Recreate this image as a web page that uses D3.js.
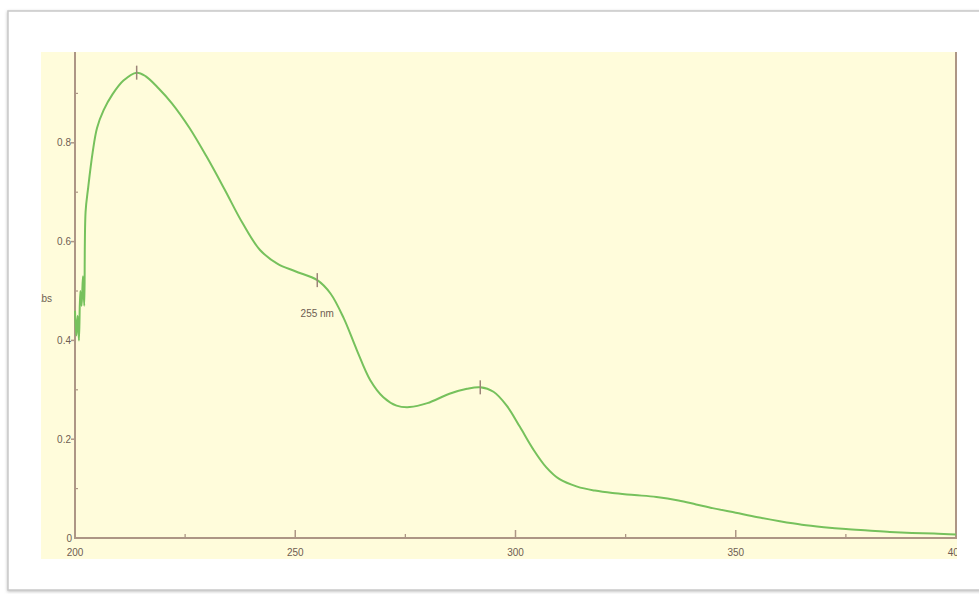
<!DOCTYPE html>
<html>
<head>
<meta charset="utf-8">
<script src="https://cdn.jsdelivr.net/npm/d3@7"></script>
<style>
  html, body { margin: 0; padding: 0; background: #ffffff; }
  svg { display: block; }
  text { font-family: "Liberation Sans", Arial, sans-serif; }
</style>
</head>
<body>
<svg id="chart" width="979" height="594"></svg>
<script>
// UV absorption spectrum: wavelength (nm) vs absorbance
const wavelengths = [200, 200.3, 200.6, 200.9, 201.2, 201.5, 201.8, 202.1, 202.4, 203, 204, 205, 206.5, 208.5, 211, 214,
  216, 219, 222, 226, 230, 234, 238, 242, 246, 250, 255, 258, 261, 264, 267, 270, 273, 276, 280, 285, 289, 292,
  295, 298, 301, 304, 307, 310, 314, 318, 322, 327, 332, 337, 341, 345, 350, 355, 360, 365, 370, 375, 380, 385,
  390, 395, 400];
const absorbance = [0.46, 0.41, 0.45, 0.40, 0.50, 0.47, 0.53, 0.47, 0.66, 0.71, 0.78, 0.83, 0.866, 0.898, 0.926, 0.942,
  0.935, 0.91, 0.88, 0.83, 0.77, 0.705, 0.638, 0.583, 0.555, 0.54, 0.522, 0.495, 0.445, 0.38, 0.32, 0.285, 0.268, 0.265, 0.273, 0.292, 0.302, 0.305,
  0.296, 0.268, 0.225, 0.18, 0.143, 0.119, 0.104, 0.096, 0.091, 0.087, 0.083, 0.076, 0.068, 0.06, 0.051, 0.042, 0.034, 0.027, 0.022, 0.018, 0.015, 0.012,
  0.01, 0.009, 0.007];

// picked peaks and the one labelled peak
const peakWavelengths = [214, 255, 292];
const labelledPeaks = [255];

const xTicksMajor = [200, 250, 300, 350, 400];
const xTicksMinor = [225, 275, 325, 375];
const yTicksMajor = [0, 0.2, 0.4, 0.6, 0.8];
const yTicksMinor = [0.1, 0.3, 0.5, 0.7, 0.9];
const yAxisTitle = "Abs";

const svg = d3.select("#chart");
const axisColor = "#ad9685";
const textColor = "#6e5c52";

const x = d3.scaleLinear().domain([200, 400]).range([75, 956]);
const y = d3.scaleLinear().domain([0, 1]).range([538, 44]);

// outer panel with soft shadow
const defs = svg.append("defs");
const f = defs.append("filter").attr("id", "shadow").attr("x", "-5%").attr("y", "-5%").attr("width", "110%").attr("height", "110%");
f.append("feDropShadow").attr("dx", 0).attr("dy", 1).attr("stdDeviation", 1.6).attr("flood-color", "#888").attr("flood-opacity", 0.55);

svg.append("rect").attr("x", 8).attr("y", 11).attr("width", 990).attr("height", 579)
  .attr("fill", "#ffffff").attr("stroke", "#c9c9c9").attr("stroke-width", 1.5)
  .attr("filter", "url(#shadow)");

// plot background
const plotLeft = 41, plotTop = 52, plotRight = 957, plotBottom = 559;
svg.append("rect").attr("x", plotLeft).attr("y", plotTop)
  .attr("width", plotRight - plotLeft).attr("height", plotBottom - plotTop)
  .attr("fill", "#fffcdb");

defs.append("clipPath").attr("id", "plotClip").append("rect")
  .attr("x", plotLeft).attr("y", plotTop).attr("width", plotRight - plotLeft).attr("height", plotBottom - plotTop);

const g = svg.append("g").attr("clip-path", "url(#plotClip)");

// axes lines
g.append("line").attr("x1", x(200)).attr("x2", x(200)).attr("y1", plotTop).attr("y2", y(0))
  .attr("stroke", axisColor).attr("stroke-width", 2);
g.append("line").attr("x1", x(400)).attr("x2", x(400)).attr("y1", plotTop).attr("y2", y(0))
  .attr("stroke", axisColor).attr("stroke-width", 2);
g.append("line").attr("x1", x(200) - 1).attr("x2", x(400) + 1).attr("y1", y(0)).attr("y2", y(0))
  .attr("stroke", axisColor).attr("stroke-width", 2);

// x ticks
g.selectAll(".xmaj").data(xTicksMajor.filter(d => d > 200 && d < 400)).enter().append("line")
  .attr("x1", d => x(d)).attr("x2", d => x(d)).attr("y1", y(0)).attr("y2", y(0) - 8)
  .attr("stroke", axisColor).attr("stroke-width", 1.5);
g.selectAll(".xmin").data(xTicksMinor).enter().append("line")
  .attr("x1", d => x(d)).attr("x2", d => x(d)).attr("y1", y(0)).attr("y2", y(0) - 4)
  .attr("stroke", axisColor).attr("stroke-width", 1.3);
g.selectAll(".xlab").data(xTicksMajor).enter().append("text")
  .attr("x", d => x(d)).attr("y", 556).attr("text-anchor", "middle")
  .attr("font-size", 10).attr("fill", textColor).text(d => d);

// y ticks
g.selectAll(".ymaj").data(yTicksMajor.filter(d => d > 0)).enter().append("line")
  .attr("x1", x(200) - 4).attr("x2", x(200)).attr("y1", d => y(d)).attr("y2", d => y(d))
  .attr("stroke", axisColor).attr("stroke-width", 1.5);
g.selectAll(".ymin").data(yTicksMinor).enter().append("line")
  .attr("x1", x(200)).attr("x2", x(200) + 3).attr("y1", d => y(d)).attr("y2", d => y(d))
  .attr("stroke", axisColor).attr("stroke-width", 1.2);
g.selectAll(".ylab").data(yTicksMajor).enter().append("text")
  .attr("x", d => d === 0 ? x(200) - 3 : x(200) - 4).attr("y", d => d === 0 ? y(d) + 4 : y(d) + 3.5)
  .attr("text-anchor", "end").attr("font-size", 10).attr("fill", textColor)
  .text(d => d === 0 ? "0" : d.toFixed(1));

// y axis title, partially hidden by the plot edge
g.append("text").attr("x", 52).attr("y", y(0.485) + 3.5).attr("text-anchor", "end")
  .attr("font-size", 10).attr("fill", textColor).text(yAxisTitle);

// spectrum
const pts = wavelengths.map((w, i) => [w, absorbance[i]]);
const line = d3.line().x(d => x(d[0])).y(d => y(d[1])).curve(d3.curveCatmullRom.alpha(0.5));
g.append("path").datum(pts).attr("d", line)
  .attr("fill", "none").attr("stroke", "#76c15c").attr("stroke-width", 2)
  .attr("stroke-linejoin", "round");

// peak markers
const valueAt = w => absorbance[wavelengths.indexOf(w)];
g.selectAll(".peak").data(peakWavelengths).enter().append("line")
  .attr("x1", d => x(d)).attr("x2", d => x(d))
  .attr("y1", d => y(valueAt(d)) - 7).attr("y2", d => y(valueAt(d)) + 7)
  .attr("stroke", "#9c8478").attr("stroke-width", 1.5);
g.selectAll(".peaklab").data(labelledPeaks).enter().append("text")
  .attr("x", d => x(d)).attr("y", d => y(valueAt(d)) + 37)
  .attr("text-anchor", "middle").attr("font-size", 10).attr("fill", textColor)
  .text(d => d + " nm");
</script>
</body>
</html>
